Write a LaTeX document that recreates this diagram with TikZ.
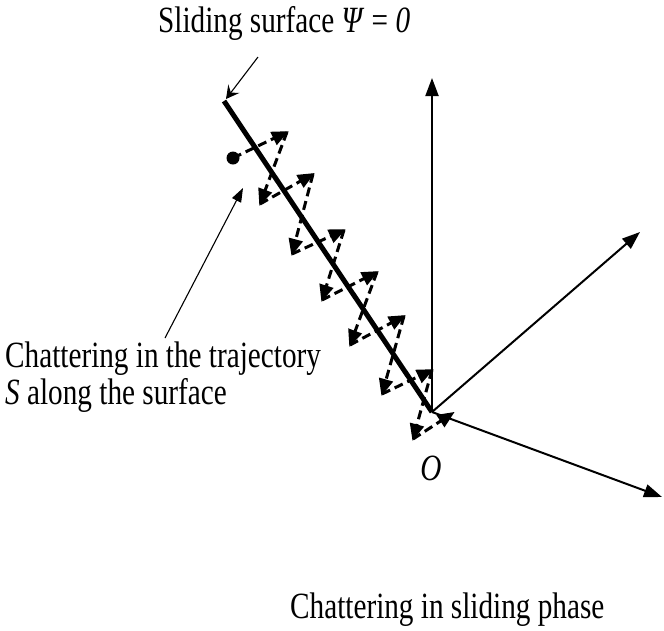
\documentclass[tikz,border=0pt]{standalone}
\usepackage{fontspec}
\setmainfont{Liberation Serif}
\usetikzlibrary{arrows.meta}
\tikzset{
  axis/.style={line width=2pt,-{Triangle[length=18pt,width=13pt]}},
  surf/.style={line width=5pt},
  chat/.style={line width=3pt,dash pattern=on 9pt off 5pt,-{Triangle[length=17pt,width=14pt]},shorten >=-2pt},
  note/.style={line width=1.1pt,-{Triangle[length=14pt,width=10pt]}},
  lbl/.style={inner sep=0pt,font=\fontsize{37}{40}\selectfont}
}
\newcommand{\sq}[1]{\scalebox{0.79}[1]{#1}}
\begin{document}
\begin{tikzpicture}[x=1pt,y=-1pt]
\useasboundingbox (0,0) rectangle (664,630);
% axes
\coordinate (O) at (432,412);
\coordinate (ax1) at (432,78);
\coordinate (ax2) at (640,232);
\coordinate (ax3) at (662,497);
\draw[axis] (O) -- (ax1);
\draw[axis] (O) -- (ax2);
\draw[axis] (O) -- (ax3);
% sliding surface
\coordinate (s0) at (224,101);
\draw[surf] (s0) -- (O);
% chattering trajectory
\coordinate (p0) at (233,158);
\coordinate (p1) at (287,132);
\coordinate (p2) at (260,204);
\coordinate (p3) at (313,174);
\coordinate (p4) at (292,254);
\coordinate (p5) at (344,230);
\coordinate (p6) at (322,300);
\coordinate (p7) at (377,272);
\coordinate (p8) at (350,345);
\coordinate (p9) at (404,316);
\coordinate (p10) at (382,394);
\coordinate (p11) at (432,370);
\coordinate (p12) at (413,439);
\coordinate (p13) at (453,413);
\fill (p0) circle (6.5);
\foreach \a/\b in {p0/p1,p1/p2,p2/p3,p3/p4,p4/p5,p5/p6,p6/p7,p7/p8,p8/p9,p9/p10,p10/p11,p11/p12,p12/p13}
  \draw[chat] (\a) -- (\b);
% labels
\node[lbl,anchor=base west] (title) at (158,32) {\sq{Sliding surface \textit{Ψ} = \textit{0}}};
\node[lbl,anchor=base west] (c1) at (5,367) {\sq{Chattering in the trajectory}};
\node[lbl,anchor=base west] (c2) at (5,404) {\sq{\textit{S} along the surface}};
\node[lbl,anchor=base] (olbl) at (431,480) {\sq{\textit{O}}};
\node[lbl,anchor=base west] (cap) at (290,618) {\sq{Chattering in sliding phase}};
% annotation arrows
\coordinate (n1) at (258,57);
\coordinate (n1e) at (226,99);
\draw[line width=1.1pt,-{Stealth[length=13pt,width=14pt,inset=5pt]}] (n1) -- (n1e);
\coordinate (n2) at (165,338);
\coordinate (n2e) at (243,188);
\draw[note] (n2) -- (n2e);
\end{tikzpicture}
\end{document}
